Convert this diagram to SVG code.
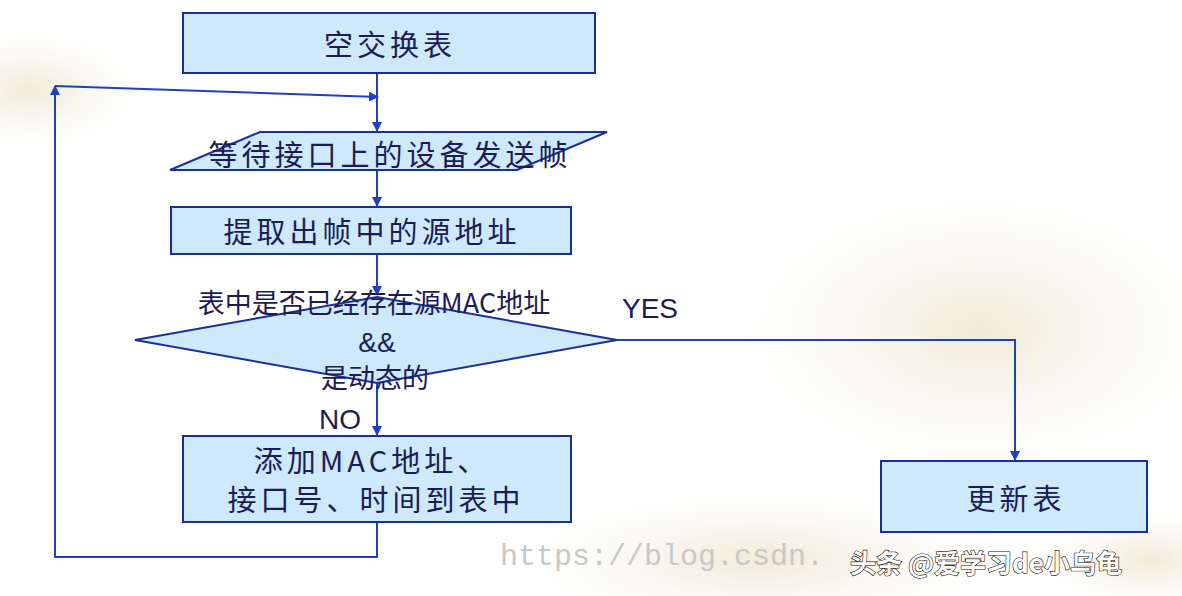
<svg xmlns="http://www.w3.org/2000/svg" width="1182" height="596" viewBox="0 0 1182 596">
<defs>
<radialGradient id="bg"><stop offset="0" stop-color="#ece7cf" stop-opacity="0.8"/><stop offset="1" stop-color="#f4f1e2" stop-opacity="0"/></radialGradient>
<marker id="ah" markerWidth="10" markerHeight="10" refX="9" refY="5" orient="auto" markerUnits="userSpaceOnUse"><path d="M0,0 L10,5 L0,10 z" fill="#1f3fc4"/></marker>
<style>
.n{fill:#cde9fb;stroke:#1a2f9c;stroke-width:2}
.t{font-family:"Noto Sans CJK SC","Liberation Sans",sans-serif;fill:#1c1c55;text-anchor:middle;font-size:29px;letter-spacing:4px}
.d{font-family:"Noto Sans CJK SC","Liberation Sans",sans-serif;fill:#1c1c55;text-anchor:middle;font-size:27px}
.e{font-family:"Liberation Sans",sans-serif;fill:#1c1c55;text-anchor:middle;font-size:28px}
.c{fill:none;stroke:#1f3fc4;stroke-width:2}
</style>
</defs>
<rect width="1182" height="596" fill="#ffffff"/>
<ellipse cx="30" cy="90" rx="110" ry="60" fill="url(#bg)"/>
<ellipse cx="980" cy="330" rx="240" ry="140" fill="url(#bg)"/>
<ellipse cx="760" cy="560" rx="240" ry="70" fill="url(#bg)"/>
<ellipse cx="1150" cy="560" rx="110" ry="50" fill="url(#bg)"/>
<g id="connectors">
<path class="c" d="M377,73 V131" marker-end="url(#ah)"/>
<path class="c" d="M377,170 V206" marker-end="url(#ah)"/>
<path class="c" d="M377,254 V295" marker-end="url(#ah)"/>
<path class="c" d="M377,383 V435" marker-end="url(#ah)"/>
<path class="c" d="M377,522 V557 H55 V86" marker-end="url(#ah)"/>
<path class="c" d="M55,86 L378,97" marker-end="url(#ah)"/>
<path class="c" d="M617,340 H1015 V460" marker-end="url(#ah)"/>
</g>
<g id="n1"><rect class="n" x="183" y="13" width="412" height="60"/><text class="t" x="390" y="56">空交换表</text></g>
<g id="n2"><polygon class="n" points="260,132 607,132 517,170 170,170"/><text class="t" x="390" y="166">等待接口上的设备发送帧</text></g>
<g id="n3"><rect class="n" x="171" y="207" width="400" height="47"/><text class="t" x="372" y="243">提取出帧中的源地址</text></g>
<g id="n4"><polygon class="n" points="377,297 617,340 377,383 135,340"/>
<text class="d" x="374" y="313">表中是否已经存在源MAC地址</text>
<text class="e" x="377" y="352">&amp;&amp;</text>
<text class="d" x="375" y="388">是动态的</text></g>
<text class="e" x="650" y="318">YES</text>
<text class="e" x="340" y="429">NO</text>
<g id="n5"><rect class="n" x="183" y="436" width="388" height="86"/><text class="t" x="372" y="472">添加MAC地址、</text><text class="t" x="376" y="511">接口号、时间到表中</text></g>
<g id="n6"><rect class="n" x="881" y="461" width="266" height="71"/><text class="t" x="1016" y="510">更新表</text></g>
<text x="500" y="565" font-family="Liberation Mono,monospace" font-size="30" fill="#c8c8c8">https://blog.csdn.</text>
<text x="850" y="573" font-family="Noto Sans CJK SC,sans-serif" font-size="26" font-weight="bold" fill="#ffffff" stroke="#111" stroke-width="1.2" paint-order="stroke">头条 @爱学习de小乌龟</text>
</svg>
